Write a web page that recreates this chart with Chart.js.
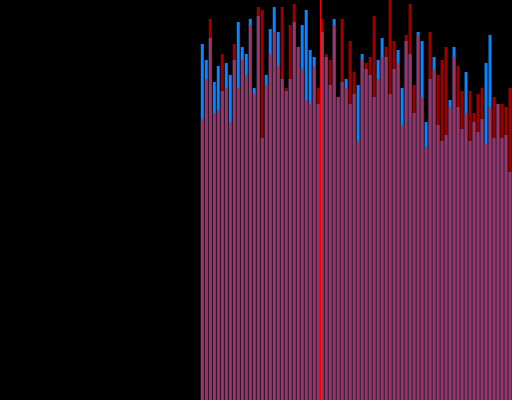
<!DOCTYPE html>
<html>
<head>
<meta charset="utf-8">
<script src="https://cdn.jsdelivr.net/npm/chart.js@4"></script>
<style>
    html, body { margin: 0; padding: 0; background: #000; }
    #wrap { width: 512px; height: 400px; }
</style>
</head>
<body>
<div id="wrap"><canvas id="barChart"></canvas></div>
<script>
// Categories: 128 slots, the first 50 have no data
const categories = Array.from({ length: 128 }, (_, i) => String(i));
const emptyLead = 50;

// Blue series (opaque, drawn underneath)
const blueValues = [
    356, 340, 362, 318, 334, 309, 337, 325, 340, 378, 353, 346, 381,
    312, 384, 262, 325, 371, 393, 368, 321, 309, 321, 378, 353, 375,
    390, 350, 343, 296, 368, 343, 315, 381, 303, 318, 321, 296, 306,
    315, 346, 331, 325, 303, 340, 362, 343, 306, 331, 350, 312, 359,
    346, 287, 368, 359, 278, 321, 343, 275, 259, 265, 300, 353, 293,
    271, 328, 259, 278, 268, 281, 337, 365, 262, 296, 262, 265, 228
];

// Red series (translucent, drawn on top)
const redValues = [
    281, 321, 381, 287, 290, 346, 312, 278, 356, 312, 340, 325, 375,
    306, 393, 390, 315, 346, 368, 334, 393, 312, 375, 396, 353, 331,
    300, 296, 334, 312, 381, 346, 340, 375, 303, 381, 312, 359, 328,
    259, 340, 337, 343, 384, 321, 343, 353, 400, 359, 337, 275, 365,
    396, 315, 365, 303, 253, 368, 331, 325, 340, 353, 293, 343, 334,
    309, 287, 309, 287, 306, 312, 256, 293, 303, 296, 296, 293, 312
];

// Vertical marker sits between these two categories
const markerBetween = [79, 80];

function padLead(values) {
    return Array(emptyLead).fill(null).concat(values);
}

// Draws the thin red marker line
const markerLine = {
    id: 'markerLine',
    afterDatasetsDraw(chart) {
        const x = chart.scales.x;
        const area = chart.chartArea;
        const mid = (x.getPixelForValue(markerBetween[0]) + x.getPixelForValue(markerBetween[1])) / 2;
        const px = Math.floor(mid) + 0.5;
        const ctx = chart.ctx;
        ctx.save();
        ctx.strokeStyle = '#ff0000';
        ctx.lineWidth = 1;
        ctx.beginPath();
        ctx.moveTo(px, area.top);
        ctx.lineTo(px, area.bottom);
        ctx.stroke();
        ctx.restore();
    }
};

new Chart(document.getElementById('barChart'), {
    type: 'bar',
    data: {
        labels: categories,
        datasets: [{
            label: 'Red',
            data: padLead(redValues),
            backgroundColor: 'rgba(255, 0, 0, 0.62)',
            grouped: false,
            order: 0
        }, {
            label: 'Blue',
            data: padLead(blueValues),
            backgroundColor: '#0a84ff',
            grouped: false,
            order: 1
        }]
    },
    options: {
        responsive: true,
        maintainAspectRatio: false,
        animation: false,
        // half-pixel shift so bar edges land on whole pixels
        layout: { padding: { left: 0.5, right: -0.5, top: 0, bottom: 0 } },
        datasets: {
            bar: {
                categoryPercentage: 1,
                barPercentage: 0.75,
                borderWidth: 0
            }
        },
        plugins: {
            legend: { display: false },
            tooltip: { enabled: false }
        },
        scales: {
            x: { display: false },
            y: { display: false, min: 0, max: 400 }
        }
    },
    plugins: [markerLine]
});
</script>
</body>
</html>
